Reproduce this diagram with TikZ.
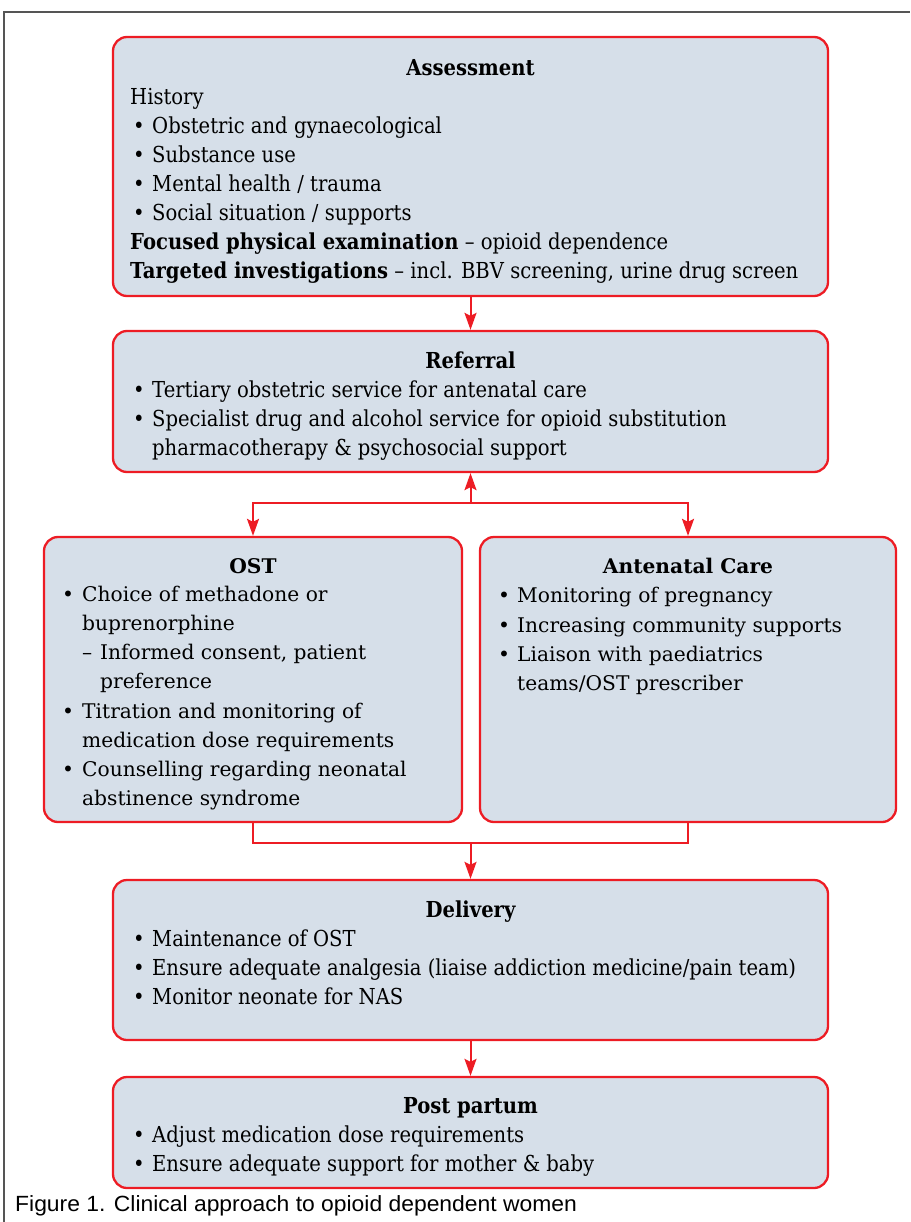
\documentclass[tikz,border=0pt]{standalone}
\usepackage{fontspec}
\setmainfont{DejaVu Serif}
\newfontfamily\condfont{DejaVu Serif}[FakeStretch=0.89]
\newfontfamily\widefont{DejaVu Serif}
\newfontfamily\capfont{Liberation Sans}[FakeStretch=1.04]
\usetikzlibrary{arrows.meta}
\definecolor{myred}{HTML}{ED1C24}
\definecolor{myblue}{HTML}{D6DFE9}
\definecolor{frame}{HTML}{555555}
\tikzset{
  box/.style={draw=myred, fill=myblue, line width=2.3pt, rounded corners=14pt, inner sep=0pt},
  ctxt/.style={anchor=base west, inner sep=0pt, font=\condfont\fontsize{22}{26}\selectfont},
  cttl/.style={anchor=base, inner sep=0pt, font=\condfont\bfseries\fontsize{22}{26}\selectfont},
  wtxt/.style={anchor=base west, inner sep=0pt, font=\widefont\fontsize{20.2}{24}\selectfont},
  wttl/.style={anchor=base, inner sep=0pt, font=\widefont\bfseries\fontsize{20.2}{24}\selectfont},
  conn/.style={draw=myred, line width=2pt},
  arr/.style={conn, -{Stealth[length=17pt, width=12pt, inset=3pt]}},
  captxt/.style={anchor=base west, inner sep=0pt, font=\capfont\fontsize{22}{26}\selectfont}
}
\begin{document}
\begin{tikzpicture}[x=1pt, y=-1pt]
\useasboundingbox (0,0) rectangle (910,1222);
\draw[frame, line width=1.5pt] (4,1222) -- (4,12) -- (910,12);

% boxes
\node[box, minimum width=715pt, minimum height=259pt] (assess) at (470.5,166.5) {};
\node[box, minimum width=715pt, minimum height=141pt] (refer) at (470.5,401.5) {};
\node[box, minimum width=418pt, minimum height=285pt] (ost) at (253,679.5) {};
\node[box, minimum width=416pt, minimum height=285pt] (ante) at (688,679.5) {};
\node[box, minimum width=715pt, minimum height=160pt] (deliv) at (470.5,960) {};
\node[box, minimum width=715pt, minimum height=111pt] (post) at (470.5,1132.5) {};

% Assessment text
\node[cttl] (a0) at (470.5,76) {Assessment};
\node[ctxt] (a1) at (130,105) {History};
\node[ctxt] (a2b) at (133,134) {•}; \node[ctxt] (a2) at (152,134) {Obstetric and gynaecological};
\node[ctxt] (a3b) at (133,163) {•}; \node[ctxt] (a3) at (152,163) {Substance use};
\node[ctxt] (a4b) at (133,192) {•}; \node[ctxt] (a4) at (152,192) {Mental health / trauma};
\node[ctxt] (a5b) at (133,221) {•}; \node[ctxt] (a5) at (152,221) {Social situation / supports};
\node[ctxt] (a6) at (130,250) {\textbf{Focused physical examination} – opioid dependence};
\node[ctxt] (a7) at (130,279) {\textbf{Targeted investigations} – incl. BBV screening, urine drug screen};

% Referral text
\node[cttl] (r0) at (470.5,368) {Referral};
\node[ctxt] (r1b) at (133,397) {•}; \node[ctxt] (r1) at (152,397) {Tertiary obstetric service for antenatal care};
\node[ctxt] (r2b) at (133,426) {•}; \node[ctxt] (r2) at (152,426) {Specialist drug and alcohol service for opioid substitution};
\node[ctxt] (r3) at (152,455) {pharmacotherapy \& psychosocial support};

% OST text
\node[wttl] (o0) at (253,573) {OST};
\node[wtxt] (o1b) at (62,601) {•}; \node[wtxt] (o1) at (82,601) {Choice of methadone or};
\node[wtxt] (o2) at (82,630) {buprenorphine};
\node[wtxt] (o3b) at (82,659) {–}; \node[wtxt] (o3) at (100,659) {Informed consent, patient};
\node[wtxt] (o4) at (100,688) {preference};
\node[wtxt] (o5b) at (62,718) {•}; \node[wtxt] (o5) at (82,718) {Titration and monitoring of};
\node[wtxt] (o6) at (82,747) {medication dose requirements};
\node[wtxt] (o7b) at (62,776) {•}; \node[wtxt] (o7) at (82,776) {Counselling regarding neonatal};
\node[wtxt] (o8) at (82,805) {abstinence syndrome};

% Antenatal text
\node[wttl] (n0) at (688,573) {Antenatal Care};
\node[wtxt] (n1b) at (498,602) {•}; \node[wtxt] (n1) at (517,602) {Monitoring of pregnancy};
\node[wtxt] (n2b) at (498,632) {•}; \node[wtxt] (n2) at (517,632) {Increasing community supports};
\node[wtxt] (n3b) at (498,661) {•}; \node[wtxt] (n3) at (517,661) {Liaison with paediatrics};
\node[wtxt] (n4) at (517,690) {teams/OST prescriber};

% Delivery text
\node[cttl] (d0) at (470.5,917) {Delivery};
\node[ctxt] (d1b) at (133,946) {•}; \node[ctxt] (d1) at (152,946) {Maintenance of OST};
\node[ctxt] (d2b) at (133,975) {•}; \node[ctxt] (d2) at (152,975) {Ensure adequate analgesia (liaise addiction medicine/pain team)};
\node[ctxt] (d3b) at (133,1004) {•}; \node[ctxt] (d3) at (152,1004) {Monitor neonate for NAS};

% Post partum text
\node[cttl] (p0) at (470.5,1113) {Post partum};
\node[ctxt] (p1b) at (133,1142) {•}; \node[ctxt] (p1) at (152,1142) {Adjust medication dose requirements};
\node[ctxt] (p2b) at (133,1171) {•}; \node[ctxt] (p2) at (152,1171) {Ensure adequate support for mother \& baby};

% caption
\node[captxt] (cap) at (15,1211) {Figure 1. Clinical approach to opioid dependent women};

% connectors
\coordinate (jtop) at (refer.south |- 0,503);
\coordinate (jbot) at (deliv.north |- 0,843);
\draw[arr] (assess.south) -- (refer.north);
\draw[arr] (jtop) -- (refer.south);
\draw[arr] (jtop) -| (ost.north);
\draw[arr] (jtop) -| (ante.north);
\draw[conn] (ost.south) |- (jbot) -| (ante.south);
\draw[arr] (jbot) -- (deliv.north);
\draw[arr] (deliv.south) -- (post.north);
\end{tikzpicture}
\end{document}
